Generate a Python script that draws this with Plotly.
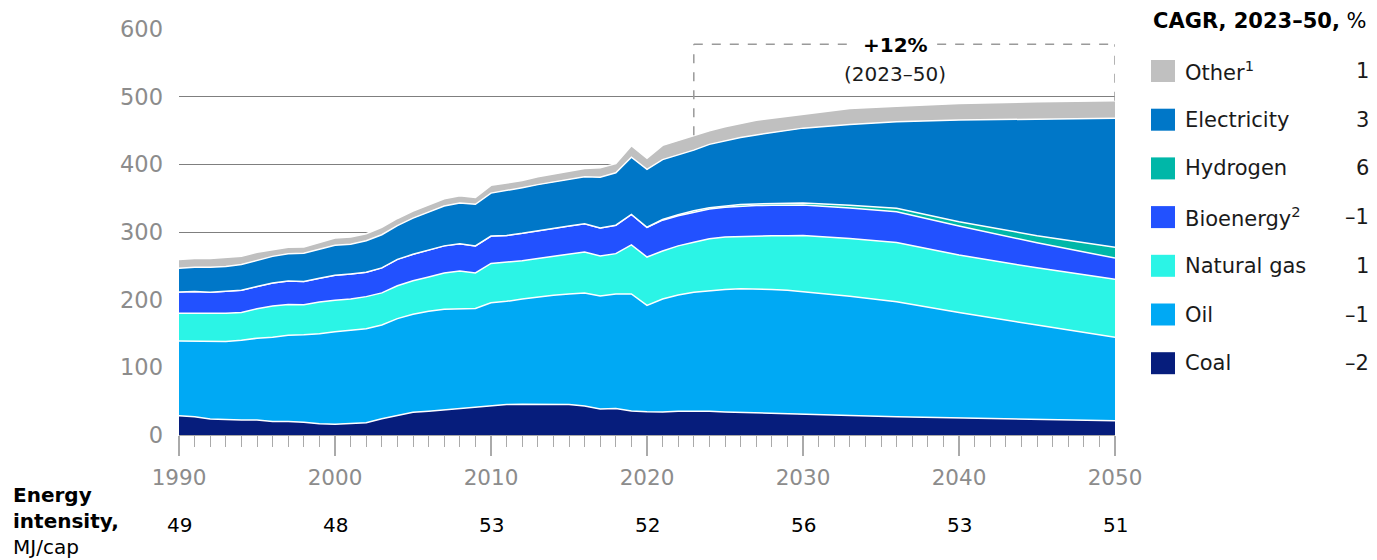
import plotly.graph_objects as go

# years (projection drawn through key years only)
years = list(range(1990, 2031)) + [2033, 2036, 2040, 2045, 2050]

coal = [28.5, 27, 23.5, 22.5, 22, 22, 20, 20, 19, 16.5,
        16, 17, 18, 24, 28.5, 33.5, 35, 37, 39, 40.5,
        43, 45, 45.5, 45.5, 45.5, 45, 43, 38.5, 39, 35.5,
        34.5, 34, 35, 35.5, 35, 34, 33.5, 32.5, 32, 31.5,
        31, 29, 27, 25.5, 23.5, 21]
oil = [110.5, 112, 114.5, 115.5, 118, 121, 124.5, 127.5, 129, 133,
       136.5, 137.5, 139, 138.5, 143.5, 145, 148, 149, 148, 146.5,
       152.5, 152.5, 155.5, 158.5, 161, 163.5, 167, 167, 169.5, 173,
       157, 167, 172, 175.5, 178.5, 181, 182.5, 183.5, 183, 182.5,
       181, 176, 170, 155.5, 139, 123.5]
gas = [41, 41, 41, 42, 41, 43.5, 46, 45.5, 44.5, 47,
       46.5, 46.5, 47.5, 47.5, 48.5, 49.5, 50.5, 53.5, 55.5, 52.5,
       58, 57.5, 56.5, 57, 58, 59.5, 60.5, 59, 59.5, 72.5,
       71.5, 71, 72.5, 74, 76.5, 77.5, 77.5, 78, 79.5, 80.5,
       83, 85.5, 87.5, 85, 84.5, 85.5]
bio = [31.5, 32, 32, 32.5, 33, 33, 34, 34.5, 34.5, 35,
       37, 37, 36, 37, 39, 39, 39.5, 40, 40, 40,
       40.5, 40, 40.5, 41, 41.5, 41, 41.5, 41.5, 42, 45,
       44, 45.5, 44.5, 44.5, 44, 44, 44.5, 45, 45, 45,
       45, 45, 45.5, 43, 37, 31.5]
hydrogen = [0] * 31 + [1, 1.5, 2, 2, 2, 2.5, 2.5, 2.5, 3,
                       3, 4, 5, 6, 10.5, 16]
electricity = [35, 36, 37, 36.5, 38, 39, 39.5, 40.5, 41.5, 43,
               44.5, 44, 46.5, 49, 50, 53.5, 56.5, 59, 60.5, 61.5,
               63.5, 66, 67.5, 68, 67.5, 68.5, 69.5, 75, 77.5, 84.5,
               85.5, 88.5, 88.5, 89.5, 93.5, 96.5, 99, 102, 105, 108,
               110.5, 119.5, 128, 150.5, 172.5, 190.5]
other = [13, 13, 13, 13.5, 12, 11.5, 10, 9.5, 9.5, 10.5,
         10.5, 10.5, 10.5, 11, 10.5, 10.5, 10.5, 10.5, 10.5, 10,
         11.5, 11, 10.5, 11.5, 12, 12.5, 12.5, 14, 13.5, 17,
         16.5, 21, 21.5, 22, 20, 20.5, 21, 21.5, 21, 20.5,
         21, 23.5, 23, 24.5, 25.5, 26]

series_names = ["Coal", "Oil", "Natural gas", "Bioenergy<sup>2</sup>", "Hydrogen",
                "Electricity", "Other<sup>1</sup>"]
series_values = [coal, oil, gas, bio, hydrogen, electricity, other]
series_colors = ["#061D7C", "#00A9F4", "#2BF4E6", "#2251FF", "#00B7A8",
                 "#0077C8", "#C0C0C0"]
cagr = ["–2", "–1", "1", "–1", "6", "3", "1"]

intensity_years = [1990, 2000, 2010, 2020, 2030, 2040, 2050]
intensity = [49, 48, 53, 52, 56, 53, 51]

FONT = "DejaVu Sans"
OFF = 8  # page body margin
W, H = 1377 - OFF, 560 - OFF
L, R, T, B = 179 - OFF, 1115 - OFF, 29 - OFF, 435 - OFF


def px(x):
    # x in screenshot pixels -> paper fraction
    return (x - OFF - L) / (R - L)


def py(y):
    return (B - (y - OFF)) / (B - T)


fig = go.Figure()
for name, vals, col in zip(series_names, series_values, series_colors):
    fig.add_trace(go.Scatter(
        x=years, y=vals, name=name, stackgroup="one",
        mode="lines", line=dict(color="white", width=1.5),
        fillcolor=col, hoverinfo="x+y+name",
    ))

annotations = []
shapes = []

# legend on the right
annotations.append(dict(
    xref="paper", yref="paper", x=px(1151), y=py(21), xanchor="left", yanchor="middle",
    text="<b>CAGR, 2023–50,</b> %", showarrow=False,
    font=dict(family=FONT, size=21, color="black")))
legend_rows = list(zip(series_names, series_colors, cagr))[::-1]
for i, (name, col, val) in enumerate(legend_rows):
    yc = 71 + i * 48.7
    shapes.append(dict(type="rect", xref="paper", yref="paper",
                       x0=px(1151), x1=px(1175), y0=py(yc + 11), y1=py(yc - 11),
                       fillcolor=col, line=dict(width=0)))
    annotations.append(dict(
        xref="paper", yref="paper", x=px(1183), y=py(yc), xanchor="left", yanchor="middle",
        text=name, showarrow=False, font=dict(family=FONT, size=21, color="#1a1a1a")))
    annotations.append(dict(
        xref="paper", yref="paper", x=px(1371), y=py(yc), xanchor="right", yanchor="middle",
        text=val, showarrow=False, font=dict(family=FONT, size=21, color="#1a1a1a")))

# energy intensity row
annotations.append(dict(
    xref="paper", yref="paper", x=px(11), y=py(481), xanchor="left", yanchor="top",
    text="<b>Energy<br>intensity,</b><br>MJ/cap", align="left", showarrow=False,
    font=dict(family=FONT, size=20, color="black")))
for yr, v in zip(intensity_years, intensity):
    annotations.append(dict(
        x=yr, xref="x", yref="paper", y=py(525), xanchor="center", yanchor="middle",
        text=str(v), showarrow=False, font=dict(family=FONT, size=20, color="black")))

# dashed growth box 2023-50
idx23, idx50 = years.index(2023), years.index(2050)
tot23 = sum(s[idx23] for s in series_values)
tot50 = sum(s[idx50] for s in series_values)
box_top = 577.5
dash = dict(color="#9a9a9a", width=1.5, dash="dash")
shapes += [
    dict(type="line", xref="x", yref="y", x0=2023, x1=2023, y0=tot23, y1=box_top, line=dash),
    dict(type="line", xref="x", yref="y", x0=2050, x1=2050, y0=tot50, y1=box_top, line=dash),
    dict(type="line", xref="x", yref="y", x0=2023, x1=2033.2, y0=box_top, y1=box_top, line=dash),
    dict(type="line", xref="x", yref="y", x0=2038.6, x1=2050, y0=box_top, y1=box_top, line=dash),
]
annotations.append(dict(x=2035.9, y=576, xref="x", yref="y", text="<b>+12%</b>",
                        showarrow=False, font=dict(family=FONT, size=20, color="black")))
annotations.append(dict(x=2035.9, y=533, xref="x", yref="y", text="(2023–50)",
                        showarrow=False, font=dict(family=FONT, size=20, color="#1a1a1a")))

fig.update_layout(
    width=W, height=H,
    margin=dict(l=L, r=W - R, t=T, b=H - B, autoexpand=False),
    plot_bgcolor="white", paper_bgcolor="white",
    showlegend=False,
    annotations=annotations, shapes=shapes,
    font=dict(family=FONT),
)
fig.update_xaxes(
    range=[1990, 2050], dtick=10, tick0=1990,
    showgrid=False, zeroline=False,
    showline=True, linecolor="#aaaaaa", linewidth=1,
    ticks="outside", ticklen=20, tickwidth=2, tickcolor="#aaaaaa",
    ticklabelstandoff=3,
    tickfont=dict(family=FONT, size=21.5, color="#8c8c8c"),
    minor=dict(dtick=1, ticks="outside", ticklen=11, tickwidth=1, tickcolor="#aaaaaa"),
)
fig.update_yaxes(
    range=[0, 600], dtick=100,
    showgrid=True, gridcolor="#7f7f7f", gridwidth=1,
    zeroline=False, showline=False, ticks="",
    ticklabelstandoff=15,
    tickfont=dict(family=FONT, size=22.5, color="#8c8c8c"),
)

fig.write_html("out.html")
